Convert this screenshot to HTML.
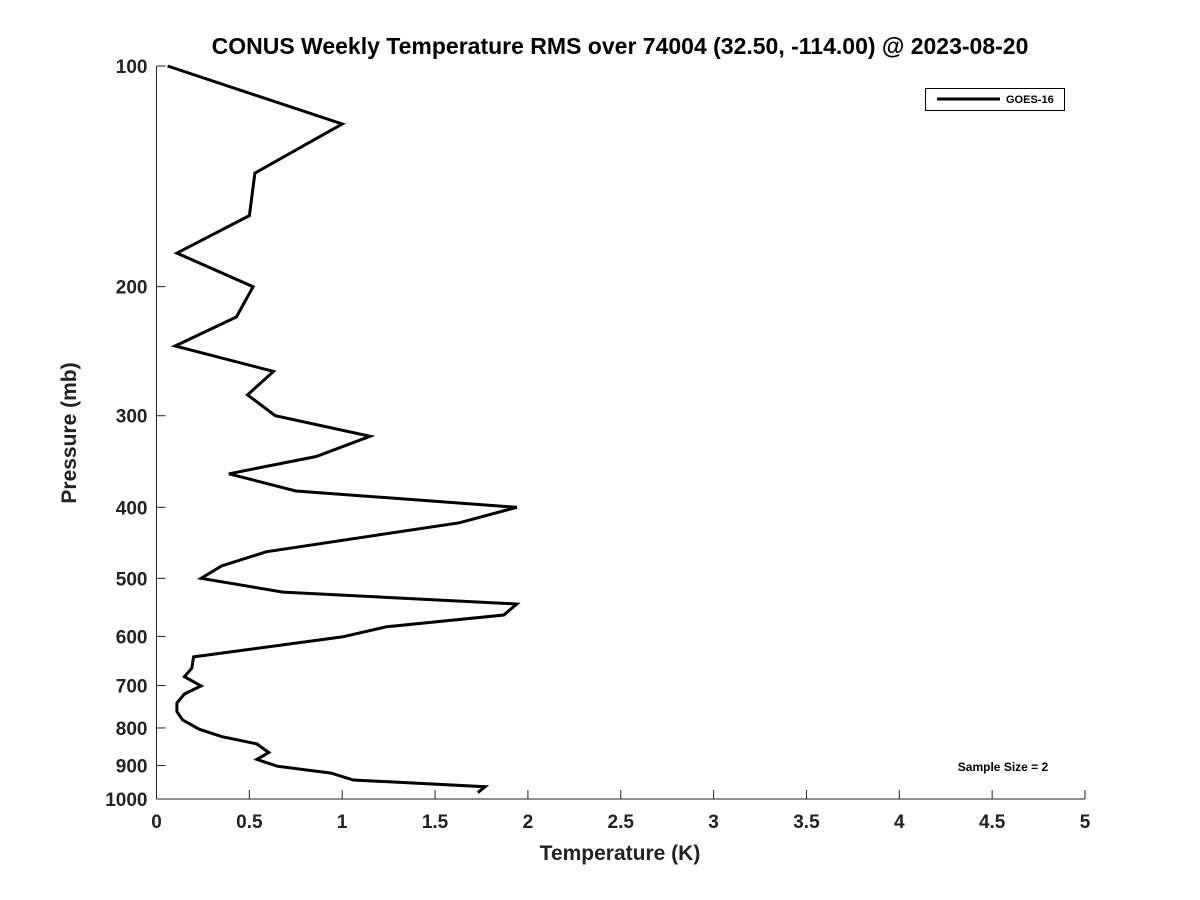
<!DOCTYPE html>
<html><head><meta charset="utf-8"><style>
body{margin:0;background:#fff;}
svg{display:block;font-family:"Liberation Sans","DejaVu Sans",sans-serif;font-weight:bold;}
</style></head><body>
<svg id="chart" width="1200" height="900">
<text x="620" y="54" font-size="23" text-anchor="middle" fill="#000">CONUS Weekly Temperature RMS over 74004 (32.50, -114.00) @ 2023-08-20</text>
<g id="axes"></g>
<polyline id="series" fill="none" stroke="#000" stroke-width="3" stroke-linejoin="miter"></polyline>
<g>
<rect x="925.5" y="88.5" width="139" height="22" fill="#fff" stroke="#000" stroke-width="1"/>
<line x1="937" y1="99" x2="1000" y2="99" stroke="#000" stroke-width="3"/>
<text x="1006" y="103" font-size="11">GOES-16</text>
</g>
<text x="1003" y="771" font-size="12" text-anchor="middle">Sample Size = 2</text>
<text x="620" y="860" font-size="21" text-anchor="middle" fill="#222">Temperature (K)</text>
<text x="76" y="433" font-size="21" text-anchor="middle" fill="#222" transform="rotate(-90 76 433)">Pressure (mb)</text>
</svg>
<script>
const temps=[0.06,1.0,0.53,0.50,0.11,0.52,0.43,0.10,0.63,0.49,0.64,1.15,0.86,0.39,0.75,1.94,1.63,0.59,0.35,0.24,0.68,1.94,1.87,1.24,1.0,0.20,0.19,0.15,0.24,0.15,0.11,0.11,0.14,0.23,0.35,0.54,0.605,0.54,0.65,0.94,1.06,1.77,1.73];
const pressures=[100,120,140,160,180,200,220,241,261,281,300,320,341,360,380,400,420,460,481,500,522,542,561,582,601,640,663,681,701,719,740,760,780,803,822,841,864,883,902,922,942,962,980];
const xTicks=[0,0.5,1,1.5,2,2.5,3,3.5,4,4.5,5];
const xTickLabels=["0","0.5","1","1.5","2","2.5","3","3.5","4","4.5","5"];
const yTicks=[100,200,300,400,500,600,700,800,900,1000];
const yTickLabels=["100","200","300","400","500","600","700","800","900","1000"];
const X0=156.5,X1=1085,Y0=66,Y1=799;
function xs(v){return X0+(v-0)/(5-0)*(X1-X0);}
function ys(p){return Y0+(Math.log10(p)-2)/(3-2)*(Y1-Y0);}
const NS="http://www.w3.org/2000/svg";
const ax=document.getElementById('axes');
function mk(t,a){const e=document.createElementNS(NS,t);for(const k in a)e.setAttribute(k,a[k]);return e;}
let l=mk('line',{x1:X0,y1:Y0,x2:X0,y2:Y1,stroke:'#222','stroke-width':1});


ax.appendChild(l);
l=mk('line',{x1:X0,y1:Y1,x2:X1,y2:Y1,stroke:'#222','stroke-width':1});


ax.appendChild(l);
xTicks.forEach((v,i)=>{
 const t=mk('line',{x1:xs(v),y1:Y1,x2:xs(v),y2:Y1-9,stroke:'#222','stroke-width':1});
 
 
 ax.appendChild(t);
 const tx=mk('text',{x:xs(v),y:Y1+29,'font-size':19,'text-anchor':'middle',fill:'#222'});
 tx.textContent=xTickLabels[i];
 
 
 ax.appendChild(tx);
});
yTicks.forEach((v,i)=>{
 const t=mk('line',{x1:X0,y1:ys(v),x2:X0+9,y2:ys(v),stroke:'#222','stroke-width':1});
 
 
 ax.appendChild(t);
 const tx=mk('text',{x:X0-9,y:ys(v)+7,'font-size':19,'text-anchor':'end',fill:'#222'});
 tx.textContent=yTickLabels[i];
 
 
 ax.appendChild(tx);
});
document.getElementById('series').setAttribute('points',temps.map((t,i)=>xs(t).toFixed(1)+','+ys(pressures[i]).toFixed(1)).join(' '));
</script>
</body></html>
